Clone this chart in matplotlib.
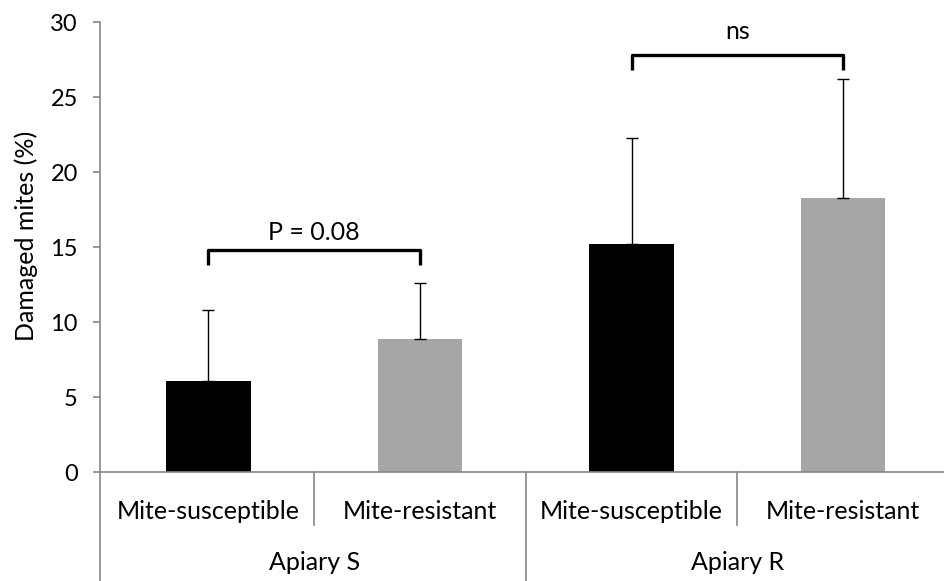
import matplotlib.pyplot as plt
import matplotlib.transforms as mtransforms

# data
groups = ["Apiary S", "Apiary R"]
lines = ["Mite-susceptible", "Mite-resistant", "Mite-susceptible", "Mite-resistant"]
means = [6.1, 8.9, 15.2, 18.3]
errs = [4.7, 3.7, 7.1, 7.9]
bar_colors = ["black", "#a6a6a6", "black", "#a6a6a6"]
# significance brackets: (left bar, right bar, bracket height, label, label height)
brackets = [(0, 1, 14.8, "P = 0.08", 16.0), (2, 3, 27.8, "ns", 29.4)]

plt.rcParams['font.family'] = ['Lato', 'DejaVu Sans']
axis_gray = "#868686"

fig = plt.figure(figsize=(9.45, 5.81), dpi=100)
ax = fig.add_axes([0.1058, 0.1876, 0.8942, 0.7745])

x = list(range(len(means)))
ax.bar(x, means, width=0.4, color=bar_colors, zorder=2)
ax.errorbar(x, means, yerr=[[0] * len(errs), errs], fmt="none", ecolor="black",
            elinewidth=1.0, capsize=4, capthick=1.0, zorder=3)

for i0, i1, h, label, ty in brackets:
    ax.plot([i0, i0, i1, i1], [h - 1.0, h, h, h - 1.0], color="black", lw=2.4,
            solid_joinstyle="round", solid_capstyle="butt", zorder=3)
    ax.text((i0 + i1) / 2, ty, label, ha="center", va="center", fontsize=18)

ax.set_xlim(-0.513, 3.482)
ax.set_ylim(0, 30)
ax.set_yticks(range(0, 31, 5))
ax.tick_params(axis="y", direction="out", length=5, width=1.2, color=axis_gray,
               labelsize=17, pad=11)
ax.set_xticks([])
for side in ["top", "right"]:
    ax.spines[side].set_visible(False)
for side in ["left", "bottom"]:
    ax.spines[side].set_color(axis_gray)
    ax.spines[side].set_linewidth(1.2)
fig.text(26 / 945, 1 - 236 / 581, "Damaged mites (%)", rotation=90,
         ha="center", va="center", fontsize=18)

# two-level category axis
trans = mtransforms.blended_transform_factory(ax.transData, ax.transAxes)
for xi, name in zip(x, lines):
    ax.text(xi, -0.087, name, transform=trans, ha="center", va="center", fontsize=18)
for gi, name in enumerate(groups):
    ax.text(2 * gi + 0.5, -0.202, name, transform=trans, ha="center", va="center", fontsize=18)
for xs in [0.5, 2.5]:
    ax.plot([xs, xs], [0, -0.118], transform=trans, color=axis_gray, lw=1.2, clip_on=False)
for xs in [-0.513, 1.5]:
    ax.plot([xs, xs], [0, -0.25], transform=trans, color=axis_gray, lw=1.2, clip_on=False)

fig.savefig("out.png", dpi=100)
